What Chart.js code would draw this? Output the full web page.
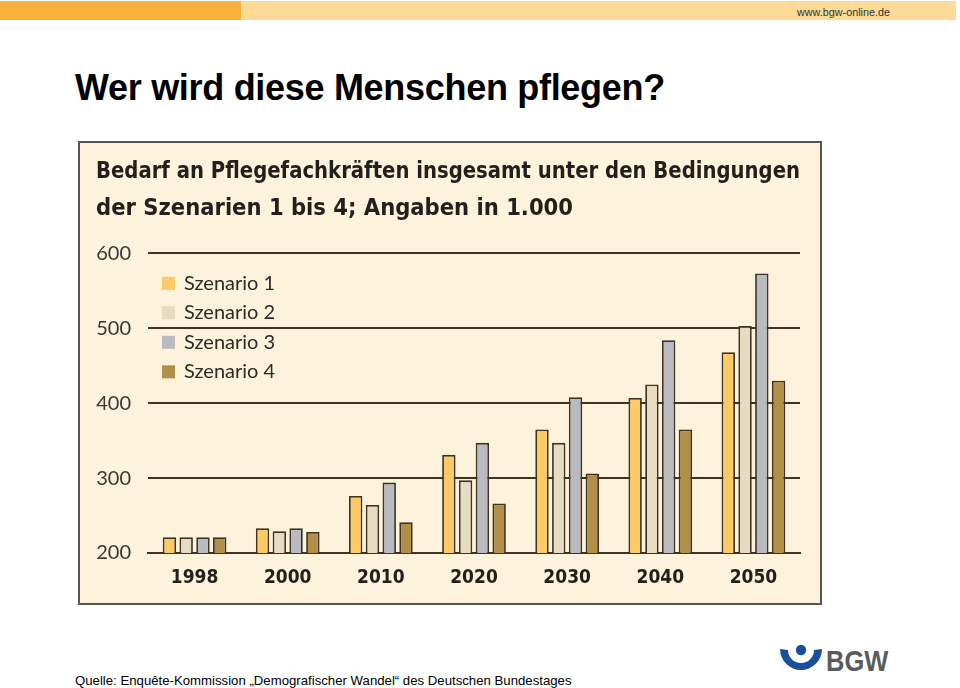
<!DOCTYPE html>
<html>
<head>
<meta charset="utf-8">
<script src="https://cdn.jsdelivr.net/npm/chart.js@4.4.0/dist/chart.umd.min.js"></script>
<style>
  body { margin: 0; width: 960px; height: 688px; background: #fff; position: relative; overflow: hidden; font-family: "Liberation Sans", Arial, sans-serif; }
  #bar1 { position: absolute; left: 0; top: 1px; width: 241px; height: 19px; background: #fbb03b; }
  #bar2 { position: absolute; left: 241px; top: 1px; width: 715px; height: 19px; background: #fdda95; }
  #url { position: absolute; left: 797px; top: 6px; font-size: 10.8px; line-height: 12px; color: #333; }
  h1 { position: absolute; left: 75px; top: 70px; margin: 0; font-size: 36px; line-height: 36px; letter-spacing: -0.3px; font-weight: bold; color: #000; }
  #box { position: absolute; left: 78px; top: 141px; width: 740px; height: 460px; border: 2px solid #58554f; background: #fdf2dc; }
  #src { position: absolute; left: 75px; top: 673px; font-size: 13.2px; line-height: 15px; color: #000; white-space: nowrap; }
  #logo { position: absolute; left: 776px; top: 640px; }
  #bgw { position: absolute; left: 826px; top: 646px; font-weight: bold; font-size: 30px; line-height: 30px; color: #5a5b5d; transform: scaleX(0.85); transform-origin: left top; }
</style>
</head>
<body>
<div id="bar1"></div>
<div id="bar2"></div>
<div id="url">www.bgw-online.de</div>
<h1>Wer wird diese Menschen pflegen?</h1>
<div id="box"><canvas id="myChart"></canvas></div>
<div id="src">Quelle: Enquête-Kommission „Demografischer Wandel“ des Deutschen Bundestages</div>
<svg id="logo" width="50" height="40" viewBox="0 0 50 40">
  <circle cx="25" cy="10" r="5.2" fill="#1b4f9c"/>
  <path d="M4 9 A21 21 0 0 0 46 9 L38 10 A13 13 0 0 1 12 10 Z" fill="#1b4f9c"/>
</svg>
<div id="bgw">BGW</div>

<script>
"use strict";

// ----------- data (values in 1.000) -----------
var years = ["1998", "2000", "2010", "2020", "2030", "2040", "2050"];
var seriesNames = ["Szenario 1", "Szenario 2", "Szenario 3", "Szenario 4"];
var szenario1 = [221, 233, 276, 331, 365, 407, 468];
var szenario2 = [221, 229, 264, 297, 347, 425, 503];
var szenario3 = [221, 233, 294, 347, 408, 484, 573];
var szenario4 = [221, 228, 241, 266, 306, 365, 430];
var yMin = 200;
var yMax = 600;
var yStep = 100;
var chartTitle = [
  "Bedarf an Pflegefachkräften insgesamt unter den Bedingungen",
  "der Szenarien 1 bis 4; Angaben in 1.000"
];

var barColors = ["#fdca65", "#e6dcc2", "#b9bbc1", "#b28f48"];
var lineColor = "#3c3324";
var narrow = '"Liberation Sans Narrow", "DejaVu Sans Condensed", sans-serif';
var round = 'Lato, "Open Sans", sans-serif';

var allSeries = [szenario1, szenario2, szenario3, szenario4];
var datasets = [];
for (var i = 0; i < allSeries.length; i++) {
  datasets.push({
    label: seriesNames[i],
    data: allSeries[i],
    backgroundColor: barColors[i],
    borderColor: lineColor,
    borderWidth: 1.8,
    categoryPercentage: 0.72,
    barPercentage: 0.8
  });
}

// legend sitting inside the plot, top left (like the original)
var insideLegend = {
  id: "insideLegend",
  afterDraw: function (c, args, opts) {
    var g = c.ctx;
    var area = c.chartArea;
    g.save();
    g.font = "20px " + round;
    g.textBaseline = "middle";
    c.data.datasets.forEach(function (ds, k) {
      var y = area.top + opts.top + k * opts.step;
      g.fillStyle = ds.backgroundColor;
      g.fillRect(area.left + opts.left, y - 6.5, 13, 13);
      g.fillStyle = "#2c2a28";
      g.fillText(ds.label, area.left + opts.left + 22, y);
    });
    g.restore();
  }
};

var ctx = document.getElementById("myChart").getContext("2d");
var chart = new Chart(ctx, {
  type: "bar",
  data: {
    labels: years,
    datasets: datasets
  },
  plugins: [insideLegend],
  options: {
    responsive: true,
    maintainAspectRatio: false,
    animation: false,
    layout: {
      padding: { left: 16, right: 20, top: 4, bottom: 11 }
    },
    plugins: {
      title: {
        display: true,
        text: chartTitle,
        align: "start",
        color: "#231f1c",
        font: { family: narrow, size: 23.5, weight: "bold", lineHeight: 1.56 },
        padding: { top: 7, bottom: 26 }
      },
      legend: { display: false },
      insideLegend: { left: 14, top: 30, step: 29.5 },
      tooltip: { enabled: false }
    },
    scales: {
      x: {
        grid: { display: false, drawTicks: false },
        border: { color: lineColor, width: 2 },
        afterFit: function (scale) { scale.height = 39; },
        ticks: {
          padding: 14,
          color: "#231f1c",
          font: { family: narrow, size: 19, weight: "bold" }
        }
      },
      y: {
        min: yMin,
        max: yMax,
        grid: { color: lineColor, lineWidth: 2, drawTicks: false },
        border: { display: false },
        afterFit: function (scale) { scale.width = 52; },
        ticks: {
          stepSize: yStep,
          padding: 17,
          color: "#3a3835",
          font: { family: round, size: 20 }
        }
      }
    }
  }
});
</script>
</body>
</html>
